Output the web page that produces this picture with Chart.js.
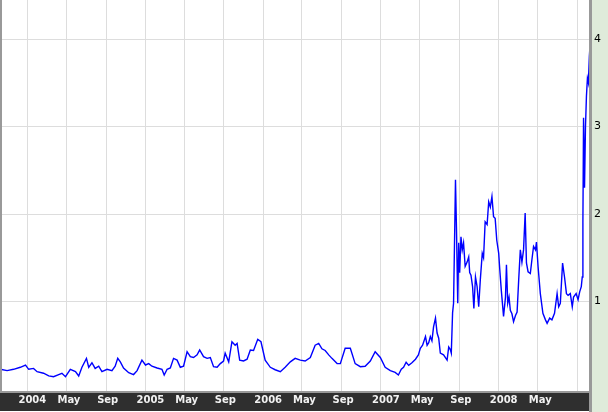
<!DOCTYPE html>
<html>
<head>
<meta charset="utf-8">
<script src="https://cdn.jsdelivr.net/npm/chart.js@4"></script>
<style>
  html, body { margin: 0; padding: 0; background: #fff; }
  #wrap { width: 608px; height: 412px; position: relative; }
</style>
</head>
<body>
<div id="wrap"><canvas id="chart"></canvas></div>
<script>
const dates = [
  '2003-10-09','2003-10-30','2003-11-19','2003-12-10','2003-12-26',
  '2004-01-05','2004-01-20','2004-01-31','2004-02-20','2004-03-07','2004-03-22','2004-04-07','2004-04-17','2004-04-28',
  '2004-05-13','2004-05-29','2004-06-08','2004-06-18','2004-07-02','2004-07-09','2004-07-19','2004-07-29','2004-08-09',
  '2004-08-19','2004-09-04','2004-09-19','2004-09-29','2004-10-07','2004-10-15','2004-10-25','2004-11-10','2004-11-25',
  '2004-12-06','2004-12-21','2005-01-01','2005-01-11','2005-01-21','2005-02-06','2005-02-21','2005-02-28','2005-03-09',
  '2005-03-19','2005-03-29','2005-04-09','2005-04-19','2005-04-29','2005-05-10','2005-05-20','2005-05-30','2005-06-10',
  '2005-06-18','2005-06-30','2005-07-11','2005-07-21','2005-07-31','2005-08-11','2005-08-21','2005-08-31','2005-09-05',
  '2005-09-16','2005-09-26','2005-10-06','2005-10-12','2005-10-20','2005-11-01','2005-11-12','2005-11-22','2005-12-02',
  '2005-12-15','2005-12-25','2006-01-07','2006-01-23','2006-02-07','2006-02-23','2006-03-10','2006-03-26','2006-04-10',
  '2006-04-26','2006-05-11','2006-05-27','2006-06-11','2006-06-22','2006-07-02','2006-07-12','2006-07-23','2006-08-02',
  '2006-08-18','2006-08-28','2006-09-12','2006-09-28','2006-10-13','2006-10-29','2006-11-13','2006-11-29','2006-12-14',
  '2006-12-30','2007-01-14','2007-01-30','2007-02-14','2007-02-24','2007-03-05','2007-03-12','2007-03-20','2007-03-28',
  '2007-04-07','2007-04-18','2007-04-27','2007-05-03','2007-05-10','2007-05-19','2007-05-24','2007-05-29','2007-06-03',
  '2007-06-08','2007-06-13','2007-06-19','2007-06-24','2007-06-29','2007-07-04','2007-07-14','2007-07-25','2007-07-30',
  '2007-08-04','2007-08-07','2007-08-11','2007-08-14','2007-08-17','2007-08-20','2007-08-23','2007-08-27','2007-08-30',
  '2007-09-02','2007-09-06','2007-09-10','2007-09-14','2007-09-19','2007-09-25','2007-09-30','2007-10-03','2007-10-07',
  '2007-10-12','2007-10-16','2007-10-21','2007-10-26','2007-10-31','2007-11-05','2007-11-11','2007-11-15','2007-11-20',
  '2007-11-26','2007-12-01','2007-12-06','2007-12-11','2007-12-16','2007-12-21','2007-12-26','2008-01-01','2008-01-04',
  '2008-01-09','2008-01-16','2008-01-22','2008-01-25','2008-01-29','2008-02-02','2008-02-06','2008-02-11','2008-02-16',
  '2008-02-22','2008-02-27','2008-03-03','2008-03-08','2008-03-13','2008-03-18','2008-03-23','2008-03-27','2008-04-01',
  '2008-04-08','2008-04-13','2008-04-18','2008-04-24','2008-04-27','2008-05-02','2008-05-09','2008-05-17','2008-05-25',
  '2008-05-30','2008-06-07','2008-06-14','2008-06-22','2008-06-30','2008-07-05','2008-07-10','2008-07-17','2008-07-23',
  '2008-07-29','2008-08-03','2008-08-10','2008-08-16','2008-08-20','2008-08-28','2008-09-03','2008-09-08','2008-09-13',
  '2008-09-16','2008-09-18','2008-09-20','2008-09-23','2008-09-26','2008-09-29','2008-10-02','2008-10-05','2008-10-08',
  '2008-10-10'
];

const values = [
  0.225,0.21,0.225,0.248,0.274,
  0.225,0.235,0.198,0.18,0.149,0.14,0.165,0.18,0.14,
  0.225,0.2,0.149,0.248,0.35,0.248,0.30,0.235,0.26,
  0.198,0.225,0.21,0.26,0.35,0.31,0.24,0.186,0.165,
  0.21,0.33,0.274,0.29,0.26,0.24,0.225,0.16,0.225,
  0.24,0.35,0.33,0.248,0.26,0.426,0.37,0.36,0.39,
  0.446,0.37,0.35,0.36,0.255,0.248,0.29,0.32,0.41,
  0.31,0.54,0.50,0.52,0.33,0.32,0.34,0.446,0.44,
  0.568,0.54,0.33,0.248,0.22,0.198,0.248,0.31,0.35,
  0.33,0.32,0.36,0.50,0.52,0.46,0.44,0.39,0.35,
  0.29,0.29,0.465,0.465,0.29,0.255,0.26,0.32,0.426,
  0.36,0.248,0.21,0.19,0.16,0.225,0.248,0.305,0.27,
  0.30,0.34,0.39,0.465,0.50,0.60,0.50,0.53,0.60,
  0.55,0.71,0.81,0.64,0.58,0.41,0.39,0.33,0.48,
  0.45,0.41,0.87,0.98,1.67,2.39,1.85,0.98,1.67,
  1.33,1.74,1.59,1.67,1.40,1.45,1.51,1.33,1.30,
  1.17,0.92,1.28,1.17,0.94,1.25,1.55,1.50,1.91,
  1.88,2.14,2.08,2.20,1.97,1.95,1.70,1.55,1.38,
  1.13,0.83,1.05,1.42,0.98,1.05,0.90,0.86,0.77,
  0.84,0.88,1.25,1.59,1.45,1.59,2.01,1.44,1.34,
  1.32,1.48,1.63,1.59,1.68,1.40,1.09,0.865,0.79,
  0.75,0.81,0.79,0.865,1.09,0.94,0.98,1.44,1.28,
  1.09,1.07,1.09,0.94,1.05,1.09,1.02,1.11,1.17,
  1.28,1.9,3.1,2.3,3.0,3.35,3.55,3.5,3.8,
  3.92
];

const tickDates = ['2004-01-01','2004-05-01','2004-09-01','2005-01-01','2005-05-01','2005-09-01','2006-01-01','2006-05-01',
  '2006-09-01','2007-01-01','2007-05-01','2007-09-01','2008-01-01','2008-05-01','2008-09-01'];
const tickLabels = ['2004','May','Sep','2005','May','Sep','2006','May','Sep','2007','May','Sep','2008','May',''];
const yTicks = [1, 2, 3, 4];

const origin = Date.parse('2004-01-01');
function dayOf(d) {
    return (Date.parse(d) - origin) / 86400000;
}

const points = dates.map((d, i) => ({ x: dayOf(d), y: values[i] }));
const tickDays = tickDates.map(dayOf);

Chart.defaults.font.family = '"DejaVu Sans", Verdana, sans-serif';

// backgrounds: green strip on the right, dark band under the plot, gray borders
const frame = {
    id: 'frame',
    beforeDraw(chart) {
        const ctx = chart.ctx;
        const a = chart.chartArea;
        ctx.save();
        ctx.fillStyle = '#ffffff';
        ctx.fillRect(0, 0, chart.width, chart.height);
        ctx.fillStyle = '#dfebda';
        ctx.fillRect(a.right, 0, chart.width - a.right, chart.height);
        ctx.fillStyle = '#999999';
        ctx.fillRect(0, a.bottom, a.right, 2);
        ctx.fillStyle = '#2f2f2f';
        ctx.fillRect(0, a.bottom + 2, a.right, chart.height - a.bottom - 3);
        ctx.restore();
    },
    afterDatasetsDraw(chart) {
        const ctx = chart.ctx;
        const a = chart.chartArea;
        ctx.save();
        ctx.fillStyle = '#999999';
        ctx.fillRect(a.right - 1, 0, 3, chart.height);
        ctx.fillRect(0, 0, 2, a.bottom);
        ctx.restore();
    }
};

new Chart(document.getElementById('chart'), {
    type: 'line',
    data: {
        datasets: [{
            data: points,
            borderColor: '#0000ff',
            borderWidth: 1.4,
            pointRadius: 0,
            tension: 0,
            fill: false
        }]
    },
    options: {
        responsive: true,
        maintainAspectRatio: false,
        animation: false,
        layout: { padding: 0 },
        plugins: { legend: { display: false }, tooltip: { enabled: false } },
        scales: {
            x: {
                type: 'linear',
                position: 'bottom',
                min: -85,
                max: 1744,
                afterBuildTicks: scale => { scale.ticks = tickDays.map(v => ({ value: v })); },
                afterFit: scale => {
                    scale.height = 21;
                    scale.paddingLeft = 0;
                    scale.paddingRight = 0;
                },
                grid: { color: '#dddddd', drawTicks: false },
                border: { display: false },
                ticks: {
                    autoSkip: false,
                    maxRotation: 0,
                    align: 'start',
                    labelOffset: -9,
                    padding: 3,
                    color: '#f2f2f2',
                    font: { size: 10, weight: 'bold' },
                    callback: (value, index) => tickLabels[index]
                }
            },
            y: {
                type: 'linear',
                position: 'right',
                min: -0.023,
                max: 4.446,
                afterBuildTicks: scale => { scale.ticks = yTicks.map(v => ({ value: v })); },
                afterFit: scale => {
                    scale.width = 18;
                    scale.paddingTop = 0;
                    scale.paddingBottom = 0;
                },
                grid: { color: '#dddddd', drawTicks: false },
                border: { display: false },
                ticks: {
                    padding: 4,
                    color: '#000000',
                    font: { size: 11 },
                    callback: value => value
                }
            }
        }
    },
    plugins: [frame]
});
</script>
</body>
</html>
